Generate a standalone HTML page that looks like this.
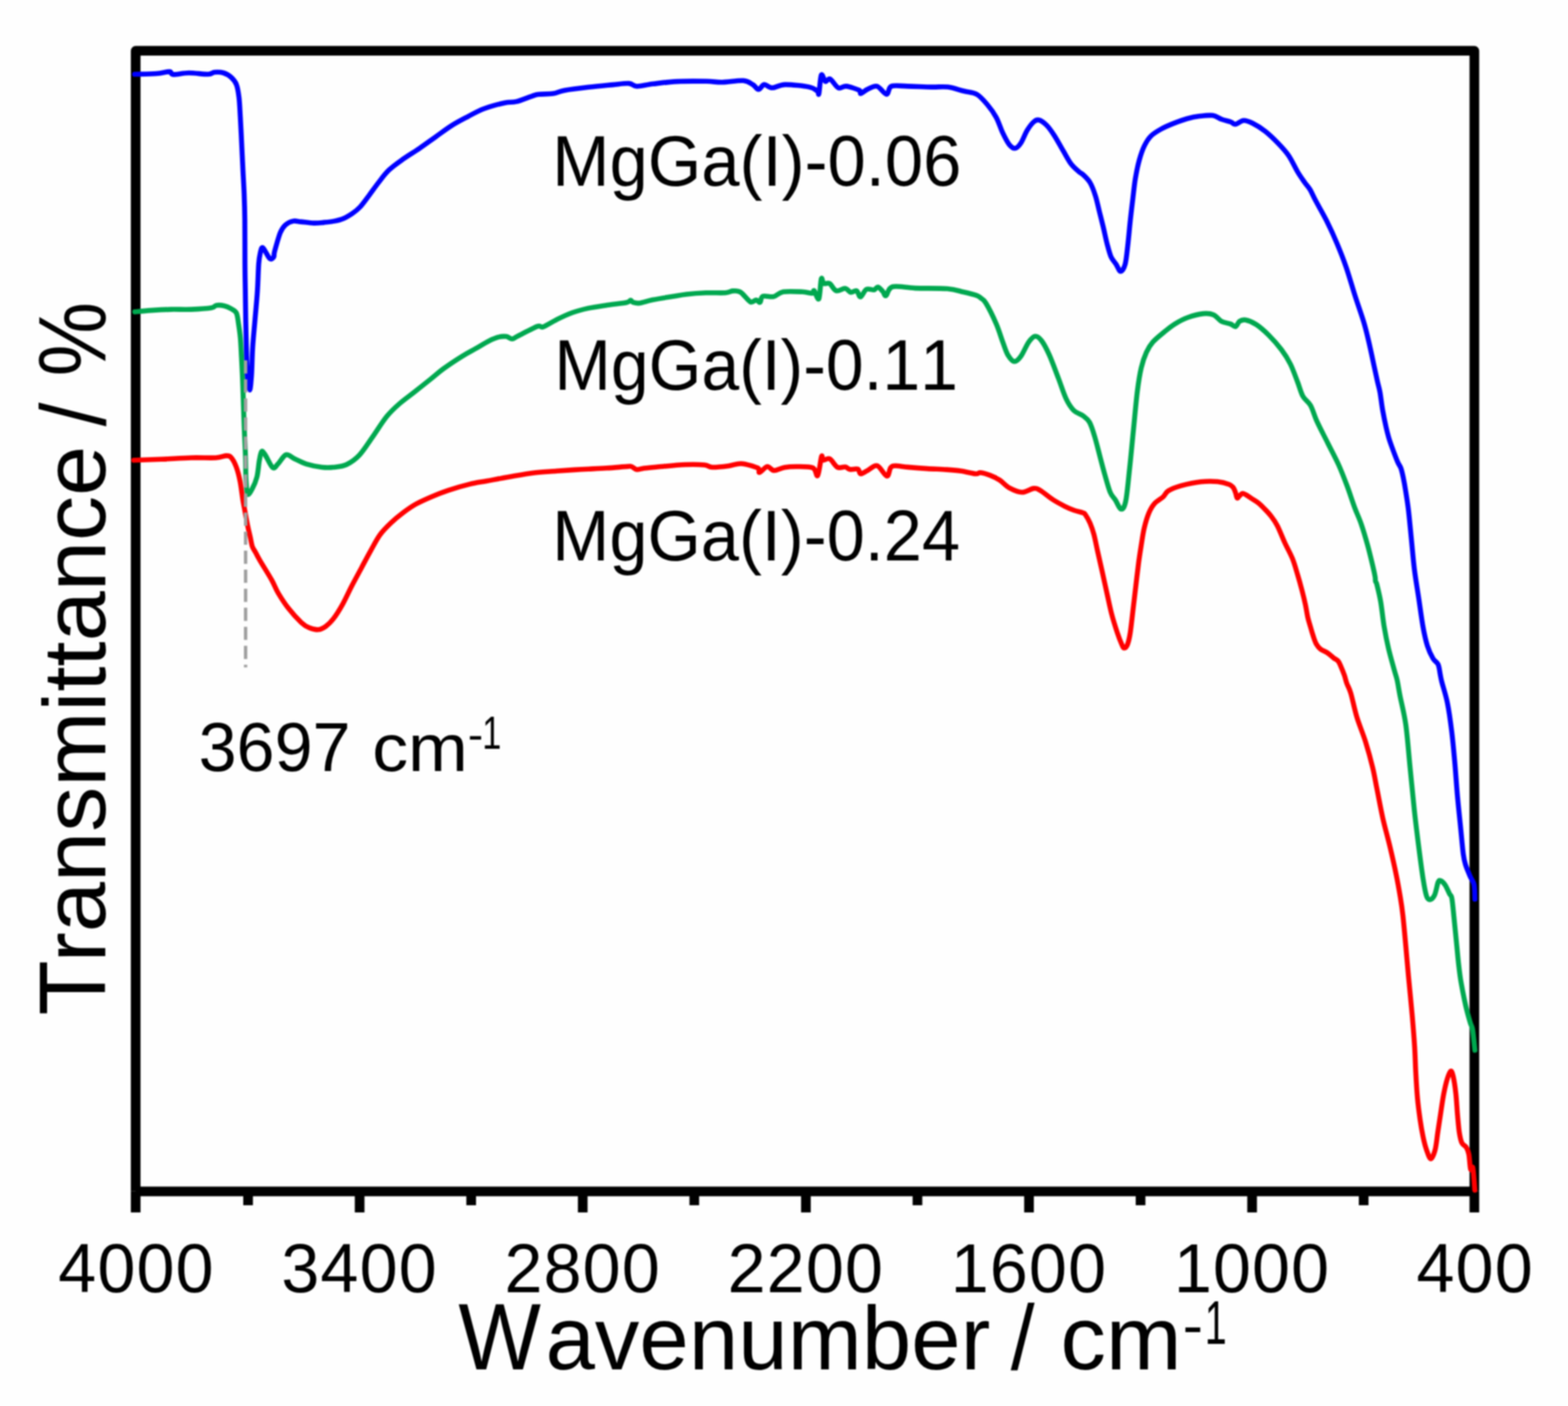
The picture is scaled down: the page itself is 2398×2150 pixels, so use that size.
<!DOCTYPE html>
<html><head><meta charset="utf-8"><title>FTIR spectra</title>
<style>
html,body{margin:0;padding:0;background:#fefefe;overflow:hidden;}
svg{display:block;filter:blur(1.3px);}
text{font-family:"Liberation Sans",Arial,sans-serif;fill:#000;font-kerning:none;}
</style></head><body>
<svg width="2398" height="2150" viewBox="0 0 2398 2150" xmlns="http://www.w3.org/2000/svg">
<rect width="2398" height="2150" fill="#fefefe"/>
<g stroke="#000" stroke-width="14.8" fill="none">
<path d="M207.5,1821.8 L207.5,77.7 L2254.8,77.7 L2254.8,1821.8" stroke-linejoin="round"/>
<line x1="207.5" y1="1821.8" x2="2254.8" y2="1821.8"/>
<line x1="207.5" y1="1821.8" x2="207.5" y2="1854"/>
<line x1="2254.8" y1="1821.8" x2="2254.8" y2="1854"/>
<line x1="379.4" y1="1821.8" x2="379.4" y2="1843"/><line x1="550.0" y1="1821.8" x2="550.0" y2="1854"/><line x1="720.6" y1="1821.8" x2="720.6" y2="1843"/><line x1="891.2" y1="1821.8" x2="891.2" y2="1854"/><line x1="1061.8" y1="1821.8" x2="1061.8" y2="1843"/><line x1="1232.5" y1="1821.8" x2="1232.5" y2="1854"/><line x1="1403.1" y1="1821.8" x2="1403.1" y2="1843"/><line x1="1573.7" y1="1821.8" x2="1573.7" y2="1854"/><line x1="1744.3" y1="1821.8" x2="1744.3" y2="1843"/><line x1="1914.9" y1="1821.8" x2="1914.9" y2="1854"/><line x1="2085.5" y1="1821.8" x2="2085.5" y2="1843"/>
</g>
<g fill="none" stroke-linejoin="round" stroke-linecap="round" stroke-width="7.6">
<path stroke="#ff0000" d="M204.6,703.8 C211.5,703.5 231.6,702.9 246.2,702.3 C260.8,701.7 278.3,700.4 292.3,700.0 C306.3,699.6 321.0,700.5 330.0,700.0 C339.0,699.5 342.2,696.9 346.2,696.9 C350.2,696.9 351.3,697.1 353.8,700.0 C356.3,702.9 359.2,708.3 361.4,714.3 C363.6,720.2 365.4,727.4 367.1,735.7 C368.8,744.0 370.2,756.9 371.4,764.3 C372.6,771.7 373.1,773.6 374.3,780.0 C375.5,786.4 377.2,795.9 378.6,802.9 C380.0,809.9 381.7,816.5 382.9,822.0 C384.1,827.5 384.6,832.2 386.0,836.0 C387.4,839.8 389.1,841.5 391.0,845.0 C392.9,848.5 393.6,850.3 397.7,857.3 C401.8,864.3 410.9,878.7 415.5,886.9 C420.1,895.1 421.0,899.4 425.3,906.6 C429.6,913.8 435.2,922.7 441.1,930.2 C447.0,937.8 455.6,947.0 460.8,951.9 C466.1,956.8 468.3,958.0 472.6,959.8 C476.9,961.6 482.1,963.1 486.4,962.8 C490.7,962.5 494.3,960.6 498.2,957.8 C502.1,955.0 505.7,951.6 510.0,946.0 C514.3,940.4 519.2,932.5 523.8,924.3 C528.4,916.1 532.7,906.2 537.6,896.7 C542.5,887.2 548.5,876.4 553.4,867.2 C558.3,858.0 562.6,849.8 567.2,841.6 C571.8,833.4 575.9,824.9 581.0,817.9 C586.1,810.9 592.1,805.1 598.0,799.5 C603.9,793.9 610.1,788.8 616.5,784.0 C622.9,779.2 629.0,774.8 636.2,770.8 C643.4,766.8 651.6,763.2 659.8,759.7 C668.0,756.2 675.7,753.0 685.4,749.8 C695.1,746.6 708.4,742.8 718.2,740.4 C728.1,738.0 734.2,737.4 744.5,735.5 C754.8,733.6 767.9,731.1 780.0,729.0 C792.1,726.9 805.0,724.5 816.9,723.0 C828.8,721.5 840.9,721.1 851.2,720.3 C861.5,719.5 870.4,718.9 878.5,718.4 C886.6,717.9 891.8,717.6 900.0,717.2 C908.2,716.8 917.9,716.4 927.8,715.8 C937.6,715.2 952.7,713.8 959.1,713.4 C965.5,713.0 963.5,712.7 966.0,713.5 C968.5,714.3 970.7,717.6 973.9,718.0 C977.1,718.4 980.1,716.6 985.0,716.0 C989.9,715.4 992.9,715.1 1003.4,714.2 C1013.9,713.3 1035.5,711.0 1047.8,710.5 C1060.1,710.0 1070.4,710.3 1077.3,711.0 C1084.2,711.7 1083.0,714.2 1089.2,714.5 C1095.4,714.8 1106.9,713.4 1114.3,712.5 C1121.7,711.6 1126.1,708.5 1133.5,709.0 C1140.9,709.5 1153.9,713.2 1158.6,715.5 C1163.3,717.8 1159.1,722.8 1161.6,722.5 C1164.1,722.2 1169.7,714.0 1173.4,713.5 C1177.1,713.0 1179.3,719.3 1183.7,719.5 C1188.1,719.7 1194.0,715.7 1200.0,714.7 C1206.0,713.7 1212.5,713.4 1219.7,713.5 C1226.9,713.6 1238.2,713.2 1243.3,715.5 C1248.4,717.8 1248.3,730.2 1250.5,727.3 C1252.7,724.4 1255.0,702.0 1256.4,698.0 C1257.8,694.0 1257.0,703.0 1259.1,703.6 C1261.2,704.2 1265.4,699.9 1269.0,701.7 C1272.6,703.5 1276.9,712.5 1280.8,714.5 C1284.7,716.5 1289.4,713.5 1292.6,714.0 C1295.8,714.5 1296.8,717.2 1300.0,717.8 C1303.2,718.3 1309.1,716.2 1311.8,717.3 C1314.5,718.4 1313.8,724.1 1316.3,724.5 C1318.8,724.9 1322.4,721.6 1326.6,719.6 C1330.8,717.6 1336.5,710.8 1341.4,712.2 C1346.3,713.6 1352.8,727.5 1356.2,728.0 C1359.7,728.5 1359.9,717.7 1362.1,715.1 C1364.3,712.5 1365.1,712.3 1369.5,712.2 C1373.9,712.1 1380.6,713.7 1388.7,714.4 C1396.8,715.1 1408.4,716.0 1418.2,716.6 C1428.0,717.2 1439.2,717.5 1447.8,718.1 C1456.4,718.7 1462.5,719.2 1469.9,720.3 C1477.3,721.4 1487.2,724.1 1492.1,724.5 C1497.0,724.9 1495.8,722.4 1499.5,722.8 C1503.2,723.2 1509.4,725.0 1514.3,726.9 C1519.2,728.8 1524.1,731.1 1529.0,734.3 C1533.9,737.5 1538.1,743.1 1543.8,746.2 C1549.5,749.3 1556.8,752.7 1563.0,752.8 C1569.2,752.9 1576.1,747.4 1580.8,746.9 C1585.5,746.4 1586.0,747.1 1591.0,750.0 C1596.0,752.9 1604.5,760.4 1610.8,764.4 C1617.1,768.4 1623.3,771.6 1628.6,774.3 C1633.9,776.9 1637.8,778.6 1642.4,780.3 C1647.0,781.9 1653.4,783.1 1656.3,784.2 C1659.2,785.3 1658.2,784.5 1660.0,787.1 C1661.8,789.7 1664.9,795.0 1667.1,800.0 C1669.2,805.0 1671.0,810.0 1672.9,817.1 C1674.8,824.2 1676.5,833.4 1678.6,842.9 C1680.7,852.4 1683.3,863.6 1685.7,874.3 C1688.1,885.0 1690.5,896.4 1692.9,907.1 C1695.3,917.8 1697.4,928.6 1700.0,938.6 C1702.6,948.6 1706.0,959.2 1708.6,967.1 C1711.2,975.0 1713.9,981.7 1715.7,985.7 C1717.5,989.7 1717.9,991.0 1719.3,991.0 C1720.7,991.0 1722.8,989.7 1724.3,985.7 C1725.8,981.7 1727.2,976.2 1728.6,967.1 C1730.0,958.0 1731.5,943.3 1732.9,931.4 C1734.3,919.5 1735.7,907.6 1737.1,895.7 C1738.5,883.8 1740.0,870.7 1741.4,860.0 C1742.8,849.3 1744.3,840.2 1745.7,831.4 C1747.1,822.6 1748.1,815.0 1750.0,807.1 C1751.9,799.2 1754.5,790.5 1757.1,784.3 C1759.7,778.1 1762.1,774.0 1765.7,770.0 C1769.3,766.0 1775.1,763.2 1778.6,760.0 C1782.1,756.8 1782.1,753.5 1786.8,750.6 C1791.5,747.7 1798.3,745.0 1806.6,742.7 C1814.8,740.4 1827.1,737.7 1836.3,736.7 C1845.5,735.7 1854.8,735.8 1862.0,736.5 C1869.2,737.2 1875.7,739.2 1879.7,740.7 C1883.7,742.2 1884.4,743.5 1886.1,745.6 C1887.8,747.7 1888.6,750.9 1889.6,753.5 C1890.6,756.1 1891.0,760.7 1892.0,761.5 C1893.0,762.3 1894.1,759.6 1895.5,758.4 C1896.9,757.2 1898.5,754.7 1900.4,754.5 C1902.3,754.3 1904.5,756.1 1906.8,757.4 C1909.1,758.7 1911.3,760.5 1914.2,762.4 C1917.1,764.3 1920.7,766.2 1924.0,768.8 C1927.3,771.4 1930.6,774.7 1933.9,778.1 C1937.2,781.5 1940.4,784.7 1943.7,789.0 C1947.0,793.3 1950.0,797.2 1953.5,804.0 C1957.0,810.8 1960.9,821.1 1964.7,829.5 C1968.5,837.9 1973.3,846.0 1976.6,854.2 C1979.9,862.4 1982.0,870.7 1984.5,878.9 C1987.0,887.1 1989.4,895.9 1991.4,903.6 C1993.4,911.3 1995.1,918.4 1996.5,925.0 C1997.9,931.6 1998.6,937.5 1999.9,943.3 C2001.2,949.1 2003.1,954.8 2004.5,959.8 C2005.9,964.8 2007.1,968.8 2008.5,973.0 C2009.9,977.2 2011.2,981.5 2013.1,984.8 C2015.0,988.1 2017.0,990.5 2019.7,992.7 C2022.5,994.9 2026.3,995.8 2029.6,998.0 C2032.9,1000.2 2036.6,1003.7 2039.4,1005.9 C2042.2,1008.1 2044.8,1009.0 2046.7,1011.2 C2048.6,1013.4 2049.1,1015.6 2050.6,1019.1 C2052.1,1022.6 2054.3,1027.9 2055.9,1032.3 C2057.5,1036.7 2058.2,1040.9 2059.9,1045.5 C2061.6,1050.1 2063.2,1051.4 2065.8,1060.0 C2068.4,1068.6 2071.4,1084.5 2075.2,1096.9 C2079.0,1109.3 2084.4,1121.5 2088.4,1134.3 C2092.4,1147.1 2096.4,1161.7 2099.3,1173.8 C2102.2,1185.9 2103.3,1194.0 2105.9,1206.8 C2108.5,1219.6 2111.4,1236.1 2114.7,1250.8 C2118.0,1265.5 2122.2,1280.0 2125.7,1294.7 C2129.2,1309.4 2132.9,1325.9 2135.5,1338.7 C2138.1,1351.5 2139.8,1361.4 2141.5,1371.6 C2143.2,1381.8 2144.1,1387.4 2145.5,1400.0 C2146.9,1412.6 2148.6,1431.5 2150.0,1447.2 C2151.4,1463.0 2152.6,1476.8 2154.2,1494.5 C2155.8,1512.2 2158.3,1535.9 2159.8,1553.5 C2161.3,1571.1 2162.5,1585.7 2163.4,1600.0 C2164.3,1614.3 2164.5,1626.4 2165.2,1639.6 C2165.9,1652.8 2166.7,1667.0 2167.8,1679.1 C2168.9,1691.2 2170.4,1702.2 2171.8,1712.1 C2173.2,1722.0 2174.8,1730.8 2176.4,1738.5 C2178.0,1746.2 2179.6,1752.6 2181.6,1758.2 C2183.6,1763.8 2186.0,1772.0 2188.2,1772.0 C2190.4,1772.0 2193.0,1764.9 2194.8,1758.2 C2196.6,1751.5 2197.5,1740.7 2198.8,1731.9 C2200.1,1723.1 2201.3,1715.4 2202.8,1705.5 C2204.3,1695.6 2206.2,1681.7 2208.0,1672.5 C2209.8,1663.3 2211.5,1655.8 2213.3,1650.1 C2215.1,1644.3 2217.1,1638.7 2218.6,1638.0 C2220.1,1637.3 2221.2,1640.5 2222.5,1646.2 C2223.8,1652.0 2225.4,1662.6 2226.5,1672.5 C2227.6,1682.4 2228.2,1695.6 2229.1,1705.5 C2230.0,1715.4 2230.7,1724.9 2231.8,1731.9 C2232.9,1738.9 2233.9,1744.0 2235.7,1747.7 C2237.4,1751.4 2240.5,1751.5 2242.3,1754.3 C2244.1,1757.1 2245.2,1759.2 2246.3,1764.8 C2247.4,1770.4 2248.0,1784.5 2249.0,1788.0 C2250.0,1791.5 2251.4,1780.7 2252.5,1786.0 C2253.6,1791.3 2255.0,1814.3 2255.5,1820.0"/>
<path stroke="#00a84f" d="M206.2,476.9 C210.3,476.5 221.6,475.2 230.8,474.6 C240.0,474.0 251.2,473.4 261.5,473.1 C271.8,472.9 282.0,473.5 292.3,473.1 C302.6,472.7 316.7,471.8 323.1,470.8 C329.5,469.8 327.5,467.4 330.8,466.9 C334.1,466.4 339.3,466.8 343.1,467.7 C346.9,468.6 350.7,470.5 353.8,472.3 C356.9,474.1 359.7,474.9 361.5,478.5 C363.3,482.1 363.6,487.4 364.6,493.8 C365.6,500.2 366.8,507.9 367.6,516.9 C368.4,525.9 368.8,537.4 369.4,547.7 C369.9,558.0 370.5,568.2 370.9,578.5 C371.3,588.8 371.6,596.4 372.0,609.2 C372.4,622.0 373.0,640.3 373.6,655.4 C374.2,670.5 375.1,686.7 375.5,700.0 C375.9,713.3 375.7,725.7 376.3,735.0 C376.9,744.3 377.3,753.7 378.9,755.7 C380.5,757.7 383.6,751.3 386.0,746.9 C388.4,742.5 391.2,736.2 393.0,729.1 C394.8,722.0 395.4,710.7 396.6,704.3 C397.8,697.9 398.6,692.0 400.1,690.5 C401.6,689.0 402.7,691.4 405.5,695.5 C408.3,699.6 413.8,712.6 417.0,715.0 C420.2,717.4 421.6,712.9 425.0,709.6 C428.4,706.4 433.1,696.8 437.4,695.5 C441.7,694.2 445.7,699.4 450.9,701.7 C456.1,704.1 461.8,707.5 468.7,709.6 C475.6,711.7 485.4,713.7 492.3,714.5 C499.2,715.3 503.8,715.2 510.0,714.5 C516.2,713.8 523.2,713.6 529.8,710.5 C536.4,707.4 543.1,702.9 549.7,695.9 C556.3,688.9 562.4,678.7 569.4,668.8 C576.4,658.9 584.6,645.3 591.6,636.7 C598.6,628.1 604.3,623.1 611.3,617.0 C618.3,610.9 625.6,605.9 633.4,599.8 C641.2,593.6 650.7,586.0 658.1,580.1 C665.5,574.2 669.6,570.1 677.8,564.1 C686.0,558.1 699.1,549.5 707.3,544.4 C715.5,539.3 720.2,537.1 727.0,533.3 C733.8,529.4 741.9,524.3 747.8,521.3 C753.7,518.3 758.2,516.5 762.6,515.4 C767.0,514.3 771.0,514.1 774.4,514.6 C777.8,515.1 780.2,518.4 783.2,518.3 C786.2,518.2 785.7,517.1 792.1,513.9 C798.5,510.7 815.3,501.5 821.7,499.1 C828.1,496.8 825.6,501.5 830.5,499.8 C835.4,498.1 843.8,492.4 851.2,488.8 C858.6,485.2 866.8,481.2 874.8,478.3 C882.8,475.4 890.4,473.4 899.4,471.4 C908.4,469.4 919.1,468.0 929.0,466.5 C938.9,465.0 952.6,463.8 958.5,462.5 C964.4,461.2 962.8,459.0 964.4,459.0 C966.0,459.0 966.1,461.6 968.4,462.3 C970.7,463.1 973.3,464.1 978.2,463.5 C983.1,462.9 989.7,460.2 997.9,458.6 C1006.1,457.0 1018.8,455.0 1027.5,453.6 C1036.2,452.2 1041.3,451.0 1050.0,450.0 C1058.7,449.0 1069.8,448.2 1079.6,447.8 C1089.4,447.4 1102.2,448.2 1109.1,447.7 C1116.0,447.2 1117.0,445.0 1120.9,444.9 C1124.9,444.8 1128.4,444.2 1132.8,447.0 C1137.2,449.8 1143.6,459.5 1147.5,461.5 C1151.4,463.5 1153.9,458.7 1156.4,458.8 C1158.9,458.9 1160.6,463.3 1162.3,462.3 C1164.0,461.3 1163.2,454.4 1166.7,453.0 C1170.2,451.6 1177.8,454.7 1183.0,453.6 C1188.2,452.5 1190.4,447.5 1197.8,446.3 C1205.2,445.1 1219.9,446.0 1227.3,446.3 C1234.7,446.6 1239.1,448.7 1242.1,448.4 C1245.1,448.1 1243.4,443.1 1245.1,444.5 C1246.8,445.9 1250.5,460.0 1252.3,457.0 C1254.1,454.0 1254.8,430.2 1256.1,426.3 C1257.3,422.4 1257.7,432.4 1259.8,433.6 C1261.9,434.8 1265.5,431.8 1268.7,433.6 C1271.9,435.5 1275.0,443.5 1279.0,444.7 C1283.0,445.9 1288.7,440.6 1292.4,441.0 C1296.1,441.4 1298.2,446.3 1301.2,446.9 C1304.2,447.5 1307.6,443.5 1310.1,444.7 C1312.6,445.9 1313.5,454.4 1316.0,454.0 C1318.5,453.6 1321.5,444.3 1324.9,442.5 C1328.4,440.7 1333.8,443.8 1336.7,443.2 C1339.7,442.6 1340.4,438.6 1342.6,439.0 C1344.8,439.4 1347.9,443.3 1350.0,445.5 C1352.1,447.7 1352.6,453.2 1355.1,452.0 C1357.6,450.8 1357.6,440.4 1365.0,438.5 C1372.4,436.6 1385.5,440.1 1399.5,440.6 C1413.5,441.1 1436.4,440.5 1448.7,441.5 C1461.0,442.5 1465.9,444.8 1473.3,446.5 C1480.7,448.2 1488.6,450.1 1493.1,451.7 C1497.5,453.2 1497.5,453.8 1500.0,455.8 C1502.5,457.8 1504.0,457.1 1507.9,463.7 C1511.9,470.3 1519.4,485.5 1523.7,495.4 C1528.0,505.3 1530.6,515.2 1533.6,523.1 C1536.6,531.0 1538.5,538.0 1541.5,542.9 C1544.5,547.8 1548.1,552.5 1551.4,552.8 C1554.7,553.1 1557.7,549.8 1561.3,544.8 C1564.9,539.8 1569.6,528.2 1573.2,523.1 C1576.8,518.0 1579.8,514.5 1583.1,514.2 C1586.4,513.9 1589.4,516.3 1593.0,521.1 C1596.6,525.9 1600.5,533.3 1604.8,542.9 C1609.1,552.5 1614.4,567.3 1618.7,578.5 C1623.0,589.7 1626.6,601.9 1630.6,610.1 C1634.5,618.3 1638.1,623.6 1642.4,627.9 C1646.7,632.2 1652.3,632.8 1656.3,635.8 C1660.3,638.8 1663.2,640.4 1666.2,645.7 C1669.2,651.0 1671.5,658.9 1674.1,667.5 C1676.7,676.1 1679.4,687.3 1682.0,697.2 C1684.6,707.1 1687.3,717.6 1689.9,726.8 C1692.5,736.0 1695.2,746.3 1697.8,752.6 C1700.4,758.9 1702.9,760.1 1705.7,764.4 C1708.5,768.7 1711.9,778.2 1714.6,778.5 C1717.2,778.8 1719.4,776.6 1721.6,766.4 C1723.8,756.1 1725.5,735.1 1727.5,717.0 C1729.5,698.9 1731.4,677.4 1733.4,657.6 C1735.4,637.8 1737.4,614.1 1739.4,598.3 C1741.4,582.5 1743.0,572.6 1745.3,562.7 C1747.6,552.8 1750.2,545.5 1753.2,538.9 C1756.2,532.3 1758.5,528.4 1763.1,523.1 C1767.7,517.8 1775.3,511.9 1780.9,507.3 C1786.5,502.7 1790.8,499.0 1796.7,495.4 C1802.6,491.8 1809.2,488.1 1816.5,485.5 C1823.8,482.9 1833.7,480.3 1840.3,479.6 C1846.9,478.9 1851.5,479.5 1856.1,481.5 C1860.7,483.5 1863.7,489.1 1868.0,491.4 C1872.3,493.7 1878.2,494.1 1881.8,495.4 C1885.4,496.7 1887.4,500.0 1889.7,499.3 C1892.0,498.6 1893.1,493.1 1895.6,491.4 C1898.1,489.7 1900.4,488.5 1904.7,489.3 C1909.0,490.1 1915.2,492.3 1921.2,496.2 C1927.2,500.1 1934.0,506.2 1940.4,512.6 C1946.8,519.0 1954.2,527.3 1959.7,534.6 C1965.2,541.9 1969.3,548.4 1973.4,556.6 C1977.5,564.8 1981.2,575.8 1984.4,584.0 C1987.6,592.2 1989.3,600.0 1992.6,606.0 C1995.9,612.0 2000.7,613.5 2004.3,620.0 C2007.9,626.5 2009.8,635.1 2014.2,644.7 C2018.6,654.3 2025.2,666.7 2030.7,677.7 C2036.2,688.7 2042.2,699.7 2047.2,710.7 C2052.2,721.7 2056.3,732.7 2060.4,743.7 C2064.5,754.7 2068.3,767.0 2071.9,776.6 C2075.5,786.2 2078.5,791.8 2081.8,801.4 C2085.1,811.0 2088.7,823.3 2091.7,834.3 C2094.7,845.3 2098.0,859.3 2099.9,867.3 C2101.8,875.2 2102.4,878.4 2103.0,882.0 C2103.6,885.6 2103.2,887.2 2103.6,889.0 C2104.0,890.8 2104.2,887.8 2105.5,893.0 C2106.8,898.2 2109.6,909.0 2111.5,920.0 C2113.4,931.0 2114.9,946.8 2116.9,958.7 C2118.9,970.6 2120.9,980.6 2123.5,991.6 C2126.1,1002.6 2130.1,1016.5 2132.3,1024.6 C2134.5,1032.7 2135.2,1033.4 2136.7,1040.0 C2138.2,1046.6 2138.9,1052.7 2141.1,1064.0 C2143.3,1075.3 2147.3,1089.6 2149.9,1107.9 C2152.5,1126.2 2154.3,1151.8 2156.5,1173.8 C2158.7,1195.8 2160.9,1219.6 2163.1,1239.8 C2165.3,1260.0 2167.5,1277.3 2169.7,1294.7 C2171.9,1312.1 2174.4,1331.4 2176.4,1344.0 C2178.4,1356.6 2179.9,1365.1 2181.7,1370.4 C2183.5,1375.7 2184.9,1376.0 2187.0,1375.7 C2189.1,1375.4 2191.9,1373.0 2194.0,1368.6 C2196.1,1364.2 2197.8,1353.0 2199.3,1349.3 C2200.8,1345.6 2201.1,1346.0 2202.8,1346.6 C2204.6,1347.2 2207.5,1349.4 2209.8,1352.8 C2212.2,1356.2 2215.1,1363.4 2216.9,1366.9 C2218.7,1370.4 2219.2,1367.5 2220.4,1373.9 C2221.6,1380.4 2222.7,1394.4 2223.9,1405.6 C2225.1,1416.8 2226.2,1429.1 2227.4,1440.8 C2228.6,1452.5 2229.7,1465.7 2230.9,1476.0 C2232.1,1486.3 2232.7,1492.1 2234.5,1502.4 C2236.3,1512.7 2239.2,1527.3 2241.5,1537.6 C2243.8,1547.8 2246.7,1557.8 2248.5,1563.9 C2250.3,1570.1 2250.9,1567.5 2252.1,1574.5 C2253.3,1581.5 2255.0,1600.8 2255.6,1606.0"/>
<path stroke="#0000ff" d="M205.9,113.5 C211.5,113.3 230.5,113.2 239.4,112.5 C248.3,111.8 254.8,109.4 259.1,109.6 C263.4,109.8 260.1,113.6 265.0,113.9 C269.9,114.2 279.8,111.6 288.7,111.5 C297.6,111.4 311.6,113.7 318.2,113.5 C324.8,113.3 324.1,110.8 328.0,110.5 C331.9,110.2 337.6,110.2 341.9,111.5 C346.2,112.8 350.4,115.4 353.7,118.4 C357.0,121.4 359.6,124.2 361.6,129.3 C363.6,134.4 364.5,140.8 365.5,149.0 C366.5,157.2 366.8,167.0 367.5,178.5 C368.2,190.0 368.9,204.9 369.5,218.0 C370.1,231.1 370.8,244.2 371.4,257.3 C372.0,270.4 372.9,283.6 373.4,296.7 C373.9,309.8 374.2,318.3 374.4,336.0 C374.6,353.7 374.5,384.6 374.6,402.9 C374.7,421.2 375.0,431.4 375.2,445.7 C375.4,460.0 375.5,474.3 375.8,488.6 C376.1,502.9 376.4,517.1 376.8,531.4 C377.2,545.7 377.5,563.4 378.3,574.3 C379.1,585.1 380.8,596.5 381.8,596.5 C382.9,596.5 383.8,585.1 384.6,574.3 C385.4,563.4 385.5,545.7 386.4,531.4 C387.3,517.1 388.8,502.9 390.0,488.6 C391.2,474.3 392.7,460.0 393.6,445.7 C394.6,431.4 394.9,413.1 395.7,402.9 C396.5,392.7 397.7,388.4 398.6,384.3 C399.6,380.2 400.2,378.6 401.4,378.6 C402.6,378.6 403.8,381.5 405.7,384.3 C407.6,387.1 410.8,394.3 412.9,395.7 C415.0,397.1 417.4,394.8 418.6,392.9 C419.8,391.0 418.3,390.5 420.0,384.3 C421.7,378.1 425.9,362.6 428.6,355.9 C431.4,349.2 433.2,347.0 436.5,344.0 C439.8,341.0 444.4,338.9 448.3,338.1 C452.2,337.3 454.9,338.6 460.1,339.1 C465.4,339.6 473.9,340.9 479.8,341.1 C485.7,341.3 490.4,340.6 495.6,340.1 C500.9,339.6 506.4,339.1 511.3,338.1 C516.2,337.1 520.5,336.2 525.1,334.2 C529.7,332.2 534.6,329.2 538.9,326.3 C543.2,323.4 546.4,321.1 550.7,316.5 C555.0,311.9 559.8,304.9 564.5,298.7 C569.2,292.4 574.0,285.4 579.0,279.0 C584.0,272.6 588.5,266.1 594.8,260.1 C601.1,254.1 609.2,248.5 617.0,242.9 C624.8,237.3 633.4,232.4 641.6,226.8 C649.8,221.2 658.0,215.1 666.2,209.3 C674.4,203.5 682.6,197.2 690.8,192.0 C699.0,186.8 707.3,182.6 715.5,178.3 C723.7,174.0 730.7,169.7 740.1,166.2 C749.5,162.7 763.9,159.0 772.1,157.2 C780.3,155.4 782.4,157.1 789.4,155.4 C796.4,153.7 808.3,148.7 814.0,146.8 C819.7,145.0 818.5,144.9 823.8,144.3 C829.1,143.7 839.4,144.1 846.0,143.1 C852.6,142.1 854.3,139.8 863.3,138.2 C872.3,136.6 887.9,134.7 900.2,133.3 C912.5,131.9 926.8,130.6 937.1,129.6 C947.4,128.6 955.6,127.2 961.8,127.6 C968.0,128.0 968.0,131.9 974.1,132.0 C980.2,132.1 988.4,129.5 998.7,128.3 C1009.0,127.1 1022.2,125.3 1035.7,124.6 C1049.2,123.9 1068.5,124.1 1080.0,124.3 C1091.5,124.5 1095.1,125.9 1104.6,125.7 C1114.0,125.5 1128.9,122.7 1136.7,123.3 C1144.5,123.9 1147.5,127.2 1151.4,129.4 C1155.3,131.7 1157.1,136.8 1160.0,136.8 C1162.9,136.8 1165.2,129.8 1168.7,129.4 C1172.2,129.0 1175.7,134.3 1181.0,134.3 C1186.3,134.3 1191.3,129.6 1200.7,129.4 C1210.1,129.2 1229.4,131.4 1237.6,133.1 C1245.8,134.8 1247.5,137.7 1250.0,139.3 C1252.5,141.0 1251.4,147.1 1252.4,143.0 C1253.4,138.9 1254.4,117.7 1256.1,114.6 C1257.8,111.5 1260.0,123.5 1262.3,124.5 C1264.6,125.5 1266.4,119.2 1269.7,120.8 C1273.0,122.4 1277.9,132.5 1282.0,134.3 C1286.1,136.2 1289.0,131.3 1294.3,131.9 C1299.6,132.5 1310.3,136.2 1314.0,138.0 C1317.7,139.8 1314.5,143.2 1316.5,143.0 C1318.5,142.8 1322.2,138.7 1326.3,136.8 C1330.4,135.0 1336.2,130.7 1341.1,131.9 C1346.0,133.1 1352.2,144.2 1355.9,144.2 C1359.6,144.2 1358.0,133.9 1363.3,131.9 C1368.6,129.9 1377.7,131.7 1387.9,131.9 C1398.2,132.1 1414.5,132.9 1424.8,133.1 C1435.1,133.3 1441.3,132.1 1449.5,133.1 C1457.7,134.1 1466.7,137.5 1474.1,139.3 C1481.5,141.2 1487.8,140.8 1493.8,144.2 C1499.8,147.6 1504.9,154.0 1509.9,159.9 C1514.9,165.8 1519.7,172.4 1523.6,179.6 C1527.5,186.8 1530.2,196.3 1533.5,203.2 C1536.8,210.1 1540.2,217.0 1543.3,220.9 C1546.4,224.8 1549.2,227.1 1552.2,226.8 C1555.2,226.5 1558.0,223.6 1561.1,219.0 C1564.2,214.4 1567.6,204.7 1570.9,199.3 C1574.2,193.9 1577.8,189.1 1580.8,186.5 C1583.8,183.9 1585.4,182.7 1588.7,183.5 C1592.0,184.3 1596.6,187.5 1600.5,191.4 C1604.4,195.3 1608.0,200.5 1612.3,207.1 C1616.6,213.7 1621.8,223.6 1626.1,230.8 C1630.4,238.0 1634.0,245.2 1637.9,250.5 C1641.9,255.8 1646.5,259.4 1649.8,262.3 C1653.1,265.2 1654.6,265.2 1657.6,268.2 C1660.5,271.1 1664.5,274.7 1667.5,280.0 C1670.5,285.3 1673.1,292.6 1675.4,299.8 C1677.7,307.0 1679.3,315.5 1681.3,323.4 C1683.3,331.3 1685.2,338.8 1687.2,347.0 C1689.2,355.2 1691.1,365.1 1693.1,372.7 C1695.1,380.3 1696.7,387.1 1699.0,392.4 C1701.3,397.6 1704.4,400.4 1706.9,404.2 C1709.4,408.0 1711.5,415.0 1713.8,415.0 C1716.1,415.0 1718.9,410.6 1720.7,404.2 C1722.5,397.8 1723.3,387.8 1724.6,376.6 C1725.9,365.4 1727.3,349.4 1728.6,337.2 C1729.9,325.0 1731.2,314.5 1732.5,303.7 C1733.8,292.9 1734.8,282.1 1736.5,272.2 C1738.2,262.3 1740.1,252.8 1742.4,244.6 C1744.7,236.4 1747.2,229.0 1750.2,222.9 C1753.2,216.8 1755.8,212.4 1760.1,208.1 C1764.4,203.8 1770.0,200.6 1775.9,197.3 C1781.8,194.0 1789.0,191.0 1795.6,188.4 C1802.2,185.8 1808.7,183.3 1815.3,181.5 C1821.9,179.7 1828.4,178.4 1835.0,177.6 C1841.6,176.8 1849.1,175.8 1854.7,176.6 C1860.3,177.4 1863.9,180.8 1868.5,182.5 C1873.1,184.2 1878.8,185.2 1882.3,186.5 C1885.8,187.8 1886.1,190.4 1889.4,190.0 C1892.7,189.6 1897.6,184.6 1902.0,184.3 C1906.4,184.1 1910.2,185.8 1915.7,188.5 C1921.2,191.2 1928.5,195.8 1934.9,200.8 C1941.3,205.8 1948.2,212.5 1954.2,218.7 C1960.2,224.9 1965.7,230.6 1970.7,237.9 C1975.7,245.2 1980.3,255.7 1984.4,262.6 C1988.5,269.5 1992.2,274.5 1995.4,279.1 C1998.6,283.7 2000.8,285.5 2003.6,290.1 C2006.3,294.7 2007.8,298.8 2011.9,306.6 C2016.0,314.4 2022.9,325.8 2028.4,336.8 C2033.9,347.8 2039.8,360.6 2044.8,372.5 C2049.8,384.4 2054.0,394.9 2058.6,408.2 C2063.2,421.5 2067.7,437.7 2072.3,452.2 C2076.9,466.7 2082.6,482.1 2086.4,495.1 C2090.2,508.1 2092.6,519.5 2095.1,530.3 C2097.6,541.1 2099.6,551.2 2101.5,560.0 C2103.4,568.8 2105.0,576.3 2106.5,583.0 C2108.0,589.7 2109.2,592.7 2110.5,600.0 C2111.8,607.3 2112.9,618.1 2114.5,627.0 C2116.1,635.9 2118.3,646.5 2119.8,653.3 C2121.3,660.1 2122.1,663.0 2123.5,668.0 C2124.9,673.0 2126.2,676.7 2128.5,683.0 C2130.8,689.3 2135.0,700.5 2137.3,706.0 C2139.6,711.5 2141.1,712.0 2142.5,716.0 C2143.9,720.0 2144.8,724.3 2146.0,730.0 C2147.2,735.7 2148.3,741.7 2149.6,750.0 C2150.9,758.3 2152.5,767.2 2154.0,780.0 C2155.5,792.8 2157.2,811.7 2158.7,826.8 C2160.2,841.9 2161.3,856.1 2163.1,870.8 C2164.9,885.4 2167.5,900.1 2169.7,914.7 C2171.9,929.4 2174.1,946.6 2176.3,958.7 C2178.5,970.8 2180.4,979.2 2182.9,987.3 C2185.4,995.3 2188.9,1002.2 2191.6,1007.0 C2194.3,1011.8 2197.5,1011.8 2199.3,1015.8 C2201.1,1019.8 2201.7,1026.8 2202.6,1031.2 C2203.5,1035.6 2203.0,1034.7 2204.8,1042.0 C2206.6,1049.3 2211.0,1062.1 2213.6,1074.9 C2216.2,1087.7 2218.4,1104.2 2220.2,1118.9 C2222.0,1133.6 2223.1,1146.4 2224.6,1162.9 C2226.1,1179.4 2227.5,1201.3 2229.0,1217.8 C2230.5,1234.3 2231.9,1247.1 2233.4,1261.8 C2234.9,1276.5 2236.5,1295.5 2237.8,1305.7 C2239.2,1315.9 2239.7,1317.1 2241.5,1322.9 C2243.3,1328.7 2246.4,1335.5 2248.5,1340.5 C2250.6,1345.5 2253.1,1347.0 2254.3,1352.8 C2255.5,1358.5 2255.4,1371.3 2255.6,1375.0"/>
</g>
<line x1="375.6" y1="551" x2="375.6" y2="1020.5" stroke="#a0a0a0" stroke-width="5.2" stroke-dasharray="20.2 8.9"/>
<g>
<text transform="translate(208.7,1976.2) scale(1,1.015)" text-anchor="middle" font-size="104.5" letter-spacing="1.7">4000</text><text transform="translate(549.9,1976.2) scale(1,1.015)" text-anchor="middle" font-size="104.5" letter-spacing="1.7">3400</text><text transform="translate(891.1,1976.2) scale(1,1.015)" text-anchor="middle" font-size="104.5" letter-spacing="1.7">2800</text><text transform="translate(1232.4,1976.2) scale(1,1.015)" text-anchor="middle" font-size="104.5" letter-spacing="1.7">2200</text><text transform="translate(1573.6,1976.2) scale(1,1.015)" text-anchor="middle" font-size="104.5" letter-spacing="1.7">1600</text><text transform="translate(1914.8,1976.2) scale(1,1.015)" text-anchor="middle" font-size="104.5" letter-spacing="1.7">1000</text><text transform="translate(2256.0,1976.2) scale(1,1.015)" text-anchor="middle" font-size="104.5" letter-spacing="1.7">400</text>
</g>
<text transform="translate(701.01,2094.00) scale(0.9657,1.0410)" font-size="138.5">W</text>
<text transform="translate(834.22,2094.00) scale(0.9819,0.9950)" font-size="138.5">avenumber</text>
<text transform="translate(1545.80,2094.00) scale(0.9486,1.0200)" font-size="138.5">/</text>
<text transform="translate(1621.69,2094.00) scale(1.0047,0.9950)" font-size="138.5">cm</text>
<text transform="translate(1808.67,2058.00) scale(1.0217,1.0000)" font-size="91">-</text>
<text transform="translate(1842.41,2054.60) scale(0.6641,1.0407)" font-size="90.8">1</text>
<text transform="translate(160.90,1552.58) rotate(-90) scale(0.9923,1.0450)" font-size="138.3">T</text>
<text transform="translate(160.90,1471.56) rotate(-90) scale(0.9978,0.9800)" font-size="138.3">ransmittance</text>
<text transform="translate(160.90,652.10) rotate(-90) scale(0.9525,1.0200)" font-size="138.3">/</text>
<text transform="translate(160.90,575.57) rotate(-90) scale(0.9265,1.0600)" font-size="138.3">%</text>
<text transform="translate(844.46,283.60) scale(1.0074,1.0407)" font-size="104.5">MgGa(I)-0.06</text>
<text transform="translate(847.78,596.10) scale(0.9934,1.0407)" font-size="104.5">MgGa(I)-0.11</text>
<text transform="translate(844.49,857.10) scale(1.0040,1.0407)" font-size="104.5">MgGa(I)-0.24</text>
<text transform="translate(303.72,1179.30) scale(0.9998,1.0150)" font-size="104.5">3697</text>
<text transform="translate(569.14,1179.30) scale(1.0502,0.9800)" font-size="104.5">cm</text>
<text transform="translate(715.47,1147.00) scale(1.0360,1.0000)" font-size="68">-</text>
<text transform="translate(737.51,1144.80) scale(0.7824,1.0407)" font-size="67">1</text>
</svg>
</body></html>
